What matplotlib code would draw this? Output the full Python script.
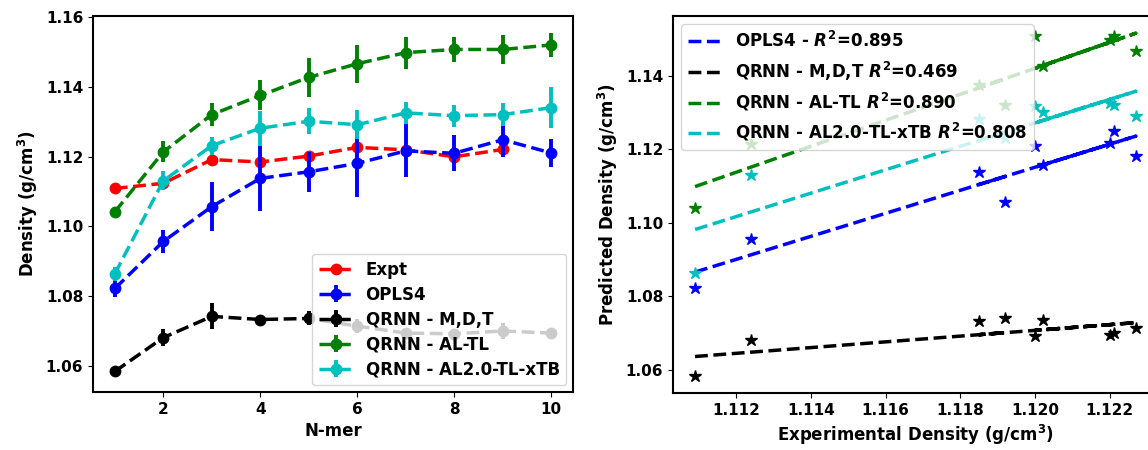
import numpy as np
import matplotlib
matplotlib.use("Agg")
import matplotlib.pyplot as plt

plt.rcParams['font.family'] = ['DejaVu Sans']
plt.rcParams['font.weight'] = 'bold'
plt.rcParams['axes.labelweight'] = 'bold'
plt.rcParams['mathtext.fontset'] = 'custom'
plt.rcParams['mathtext.it'] = 'DejaVu Sans:italic:bold'
plt.rcParams['mathtext.rm'] = 'DejaVu Sans:bold'
plt.rcParams['mathtext.bf'] = 'DejaVu Sans:bold'

# ---------------- data ----------------
nmer = [1, 2, 3, 4, 5, 6, 7, 8, 9, 10]
nmer_expt = [1, 2, 3, 4, 5, 6, 7, 8, 9]

expt = [1.1109, 1.1124, 1.1192, 1.1185, 1.1202, 1.1227, 1.1220, 1.1200, 1.1221]

opls4 = [1.0822, 1.0957, 1.1057, 1.1138, 1.1157, 1.1181, 1.1217, 1.1210, 1.1249, 1.1211]
opls4_err = [0.0024, 0.0034, 0.0070, 0.0094, 0.0058, 0.0095, 0.0076, 0.0052, 0.0050, 0.0041]

mdt = [1.0584, 1.0681, 1.0742, 1.0733, 1.0736, 1.0714, 1.0694, 1.0692, 1.0700, 1.0694]
mdt_err = [0.0010, 0.0025, 0.0037, 0.0008, 0.0020, 0.0020, 0.0010, 0.0015, 0.0024, 0.0010]

altl = [1.1042, 1.1214, 1.1321, 1.1376, 1.1428, 1.1467, 1.1499, 1.1508, 1.1508, 1.1521]
altl_err = [0.0014, 0.0030, 0.0033, 0.0043, 0.0055, 0.0054, 0.0046, 0.0037, 0.0042, 0.0034]

xtb = [1.0864, 1.1131, 1.1232, 1.1282, 1.1302, 1.1292, 1.1326, 1.1318, 1.1321, 1.1341]
xtb_err = [0.0020, 0.0027, 0.0026, 0.0050, 0.0038, 0.0042, 0.0031, 0.0032, 0.0032, 0.0058]

labels_left = ["Expt", "OPLS4", "QRNN - M,D,T", "QRNN - AL-TL", "QRNN - AL2.0-TL-xTB"]
labels_right = ["OPLS4 - $R^2$=0.895", "QRNN - M,D,T $R^2$=0.469",
                "QRNN - AL-TL $R^2$=0.890", "QRNN - AL2.0-TL-xTB $R^2$=0.808"]
colors = ['r', 'b', 'k', 'g', 'c']

# ---------------- figure ----------------
fig = plt.figure(figsize=(11.48, 4.5), dpi=100)
ax1 = fig.add_axes([93/1148, 1-392/450, (573-93)/1148, (392-16)/450])
ax2 = fig.add_axes([673/1148, 1-393/450, (1158-673)/1148, (393-16)/450])

lw = 2.5
ms = 7.5
ax1.plot(nmer_expt, expt, 'o--', color=colors[0], lw=lw, ms=ms, label=labels_left[0])
series = [(opls4, opls4_err), (mdt, mdt_err), (altl, altl_err), (xtb, xtb_err)]
for (vals, err), c, lab in zip(series, colors[1:], labels_left[1:]):
    ax1.errorbar(nmer, vals, yerr=err, fmt='o--', color=c, lw=lw, ms=ms,
                 elinewidth=2.8, label=lab)

ax1.set_xlabel("N-mer", fontsize=12)
ax1.set_ylabel("Density (g/cm$^3$)", fontsize=12)
ax1.legend(loc='lower right', fontsize=12, labelspacing=0.42, borderaxespad=0.4)

# right panel: predicted vs experimental
n = len(expt)
for (vals, err), c, lab in zip(series, colors[1:], labels_right):
    y = np.array(vals[:n])
    x = np.array(expt)
    ax2.plot(x, y, '*', color=c, ms=9, ls='none')
    p = np.polyfit(x, y, 1)
    ax2.plot(x, np.polyval(p, x), '--', color=c, lw=lw, label=lab)

ax2.set_xlabel("Experimental Density (g/cm$^3$)", fontsize=12)
ax2.set_ylabel("Predicted Density (g/cm$^3$)", fontsize=12)
ax2.legend(loc='upper left', fontsize=12)
ax2.spines['right'].set_visible(False)

for ax in (ax1, ax2):
    ax.tick_params(labelsize=11)
    for lbl in ax.get_xticklabels() + ax.get_yticklabels():
        lbl.set_fontweight('bold')
    for s in ax.spines.values():
        s.set_linewidth(1.5)

fig.savefig("out.png", dpi=100)
